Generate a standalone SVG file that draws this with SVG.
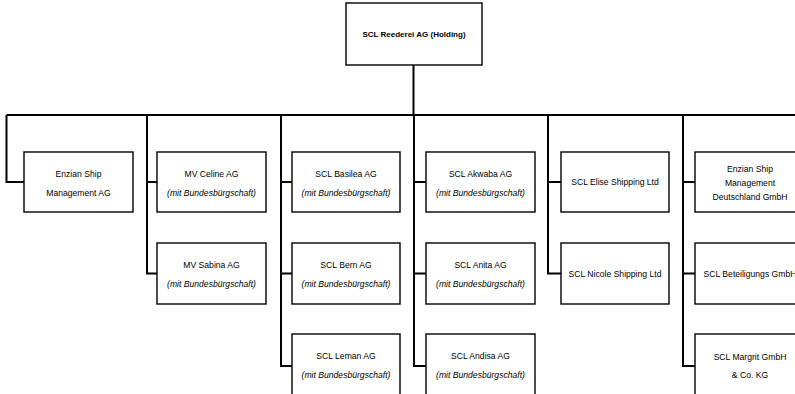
<svg xmlns="http://www.w3.org/2000/svg" width="795" height="394" viewBox="0 0 795 394">
<style>
.box{fill:#fff;stroke:#000;stroke-width:1.4}
.con{fill:none;stroke:#000;stroke-width:2}
text{font-family:"Liberation Sans",Arial,sans-serif;font-size:8.6px;fill:#000;text-anchor:middle}
.b{font-weight:bold;font-size:8px}
.i{font-style:italic}
</style>
<rect width="795" height="394" fill="#fff"/>
<g id="connectors">
<path class="con" d="M413.5 65 V115"/>
<path class="con" d="M6.5 115 H800"/>
<path class="con" d="M6.5 115 V182 H24"/>
<path class="con" d="M147 115 V273.5 H157 M147 182 H157"/>
<path class="con" d="M281 115 V366 H292 M281 182 H292 M281 273.5 H292"/>
<path class="con" d="M414 115 V366 H426 M414 182 H426 M414 273.5 H426"/>
<path class="con" d="M548 115 V273.5 H561 M548 182 H561"/>
<path class="con" d="M683 115 V366 H695 M683 182 H695 M683 273.5 H695"/>
</g>
<g id="holding"><rect class="box" x="346" y="3" width="136" height="62"/><text class="b" x="414" y="37">SCL Reederei  AG (Holding)</text></g>
<g id="enzian-ag"><rect class="box" x="24" y="152" width="109" height="60"/><text x="78.5" y="177">Enzian Ship</text><text x="78.5" y="196">Management  AG</text></g>
<g id="celine"><rect class="box" x="157" y="152" width="109" height="60"/><text x="211.5" y="177">MV Celine AG</text><text class="i" x="211.5" y="196">(mit Bundesbürgschaft)</text></g>
<g id="sabina"><rect class="box" x="157" y="243" width="109" height="61"/><text x="211.5" y="268">MV Sabina AG</text><text class="i" x="211.5" y="287">(mit Bundesbürgschaft)</text></g>
<g id="basilea"><rect class="box" x="292" y="152" width="108" height="60"/><text x="346" y="177">SCL Basilea AG</text><text class="i" x="346" y="196">(mit Bundesbürgschaft)</text></g>
<g id="bern"><rect class="box" x="292" y="243" width="108" height="61"/><text x="346" y="268">SCL Bern AG</text><text class="i" x="346" y="287">(mit Bundesbürgschaft)</text></g>
<g id="leman"><rect class="box" x="292" y="334" width="108" height="62"/><text x="346" y="359">SCL Leman AG</text><text class="i" x="346" y="378">(mit Bundesbürgschaft)</text></g>
<g id="akwaba"><rect class="box" x="426" y="152" width="109" height="60"/><text x="480.5" y="177">SCL Akwaba AG</text><text class="i" x="480.5" y="196">(mit Bundesbürgschaft)</text></g>
<g id="anita"><rect class="box" x="426" y="243" width="109" height="61"/><text x="480.5" y="268">SCL Anita  AG</text><text class="i" x="480.5" y="287">(mit Bundesbürgschaft)</text></g>
<g id="andisa"><rect class="box" x="426" y="334" width="109" height="62"/><text x="480.5" y="359">SCL Andisa  AG</text><text class="i" x="480.5" y="378">(mit Bundesbürgschaft)</text></g>
<g id="elise"><rect class="box" x="561" y="152" width="108" height="60"/><text x="615" y="185">SCL Elise Shipping  Ltd</text></g>
<g id="nicole"><rect class="box" x="561" y="243" width="108" height="61"/><text x="615" y="276.5">SCL Nicole Shipping  Ltd</text></g>
<g id="enzian-de"><rect class="box" x="695" y="152" width="112" height="60"/><text x="750" y="172">Enzian Ship</text><text x="750" y="186">Management</text><text x="750" y="200">Deutschland GmbH</text></g>
<g id="beteiligungs"><rect class="box" x="695" y="243" width="112" height="61"/><text x="750" y="276.5">SCL Beteiligungs  GmbH</text></g>
<g id="margrit"><rect class="box" x="695" y="334" width="112" height="62"/><text x="750" y="360">SCL Margrit GmbH</text><text x="750" y="378">&amp; Co. KG</text></g>
</svg>
